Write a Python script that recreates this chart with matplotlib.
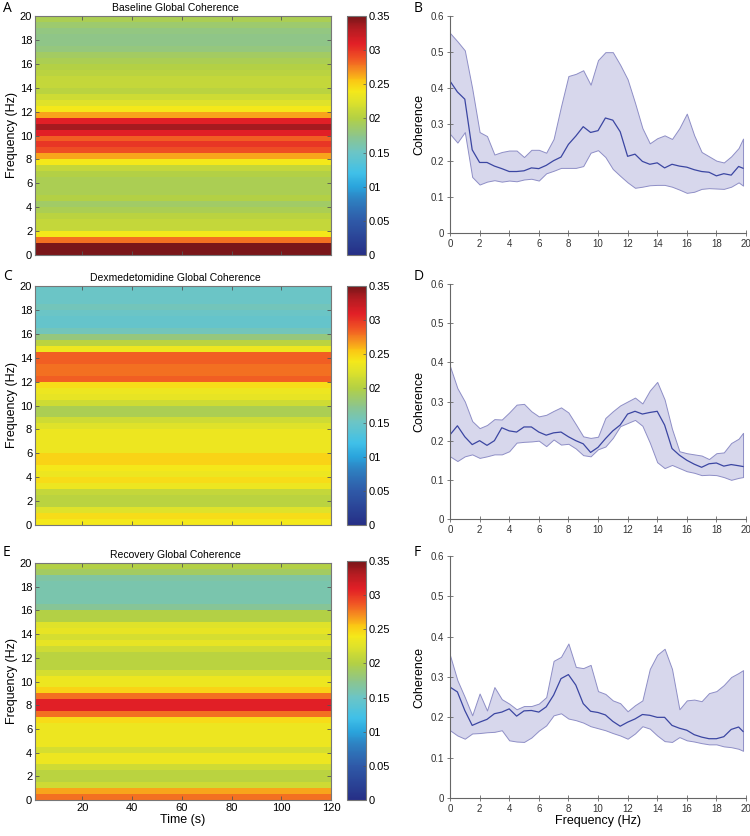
import matplotlib
matplotlib.use("Agg")
import matplotlib.pyplot as plt
from matplotlib.colors import LinearSegmentedColormap
import numpy as np

# ---- heatmap data (group coherence per 0.5 Hz bin, constant over time) ----
HM_FREQ = [0, 0.5, 1, 1.5, 2, 2.5, 3, 3.5, 4, 4.5, 5, 5.5, 6, 6.5, 7, 7.5, 8, 8.5, 9, 9.5,
           10, 10.5, 11, 11.5, 12, 12.5, 13, 13.5, 14, 14.5, 15, 15.5, 16, 16.5, 17, 17.5, 18, 18.5, 19, 19.5]
TIME_S = [1, 120]

hm_baseline = [0.36, 0.36, 0.28, 0.24, 0.21, 0.21, 0.205, 0.195, 0.188, 0.2,
               0.195, 0.195, 0.195, 0.2, 0.21, 0.24, 0.265, 0.29, 0.3, 0.285,
               0.31, 0.335, 0.31, 0.265, 0.24, 0.225, 0.215, 0.205, 0.21, 0.21,
               0.205, 0.2, 0.195, 0.19, 0.18, 0.175, 0.175, 0.178, 0.185, 0.195]
hm_dex = [0.24, 0.245, 0.225, 0.205, 0.205, 0.21, 0.235, 0.245, 0.235, 0.24,
          0.25, 0.25, 0.235, 0.235, 0.235, 0.235, 0.225, 0.215, 0.195, 0.195,
          0.215, 0.23, 0.235, 0.245, 0.285, 0.28, 0.28, 0.285, 0.285, 0.235,
          0.205, 0.18, 0.155, 0.145, 0.145, 0.15, 0.155, 0.15, 0.15, 0.15]
hm_recovery = [0.28, 0.265, 0.215, 0.205, 0.205, 0.215, 0.235, 0.235, 0.22, 0.235,
               0.235, 0.235, 0.235, 0.245, 0.28, 0.31, 0.31, 0.28, 0.25, 0.235,
               0.235, 0.22, 0.205, 0.205, 0.205, 0.215, 0.23, 0.22, 0.23, 0.225,
               0.2, 0.2, 0.17, 0.16, 0.16, 0.16, 0.16, 0.165, 0.19, 0.2]

# ---- median coherence with interquartile band ----
FREQ = [0, 0.5, 1, 1.5, 2, 2.5, 3, 3.5, 4, 4.5, 5, 5.5, 6, 6.5, 7, 7.5, 8, 8.5, 9, 9.5,
        10, 10.5, 11, 11.5, 12, 12.5, 13, 13.5, 14, 14.5, 15, 15.5, 16, 16.5, 17, 17.5, 18, 18.5, 19, 19.5, 19.8]

base_med = [0.42, 0.39, 0.37, 0.23, 0.195, 0.195, 0.185, 0.178, 0.17, 0.17,
            0.172, 0.18, 0.178, 0.187, 0.2, 0.21, 0.245, 0.268, 0.294, 0.278,
            0.283, 0.318, 0.312, 0.28, 0.212, 0.218, 0.198, 0.19, 0.194, 0.18,
            0.19, 0.185, 0.182, 0.175, 0.17, 0.168, 0.158, 0.164, 0.16, 0.184, 0.179]
base_hi = [0.553, 0.53, 0.505, 0.40, 0.279, 0.268, 0.217, 0.224, 0.228, 0.228,
           0.21, 0.23, 0.23, 0.222, 0.26, 0.35, 0.434, 0.44, 0.45, 0.41,
           0.478, 0.5, 0.5, 0.465, 0.425, 0.36, 0.29, 0.248, 0.262, 0.27,
           0.26, 0.29, 0.33, 0.27, 0.224, 0.212, 0.2, 0.195, 0.212, 0.235, 0.261]
base_lo = [0.274, 0.25, 0.279, 0.155, 0.134, 0.142, 0.146, 0.142, 0.145, 0.143,
           0.148, 0.15, 0.145, 0.165, 0.172, 0.18, 0.18, 0.18, 0.185, 0.222,
           0.229, 0.21, 0.177, 0.158, 0.14, 0.125, 0.128, 0.132, 0.133, 0.133,
           0.128, 0.12, 0.111, 0.114, 0.122, 0.124, 0.123, 0.122, 0.128, 0.14, 0.131]

dex_med = [0.215, 0.238, 0.21, 0.19, 0.2, 0.188, 0.2, 0.233, 0.225, 0.222,
           0.235, 0.235, 0.222, 0.214, 0.22, 0.222, 0.21, 0.2, 0.192, 0.17,
           0.183, 0.205, 0.225, 0.24, 0.268, 0.275, 0.268, 0.272, 0.275, 0.24,
           0.18, 0.163, 0.15, 0.14, 0.132, 0.141, 0.143, 0.135, 0.139, 0.136, 0.134]
dex_hi = [0.39, 0.334, 0.3, 0.25, 0.232, 0.24, 0.255, 0.254, 0.272, 0.292,
          0.294, 0.275, 0.262, 0.266, 0.276, 0.285, 0.272, 0.242, 0.211, 0.207,
          0.21, 0.258, 0.275, 0.29, 0.3, 0.31, 0.295, 0.328, 0.35, 0.305,
          0.23, 0.173, 0.168, 0.165, 0.162, 0.153, 0.168, 0.17, 0.194, 0.205, 0.22]
dex_lo = [0.16, 0.148, 0.16, 0.165, 0.156, 0.16, 0.165, 0.165, 0.173, 0.195,
          0.197, 0.198, 0.2, 0.186, 0.203, 0.19, 0.192, 0.18, 0.163, 0.16,
          0.178, 0.185, 0.207, 0.237, 0.245, 0.253, 0.238, 0.195, 0.145, 0.13,
          0.138, 0.13, 0.122, 0.118, 0.112, 0.113, 0.112, 0.107, 0.1, 0.105, 0.107]

rec_med = [0.275, 0.263, 0.217, 0.18, 0.188, 0.195, 0.209, 0.213, 0.221, 0.203,
           0.216, 0.217, 0.213, 0.226, 0.255, 0.296, 0.306, 0.28, 0.234, 0.215,
           0.212, 0.206, 0.19, 0.178, 0.188, 0.196, 0.207, 0.205, 0.2, 0.2,
           0.18, 0.173, 0.168, 0.157, 0.151, 0.147, 0.147, 0.152, 0.17, 0.176, 0.165]
rec_hi = [0.354, 0.292, 0.25, 0.205, 0.259, 0.217, 0.275, 0.245, 0.234, 0.22,
          0.228, 0.228, 0.234, 0.25, 0.34, 0.35, 0.383, 0.325, 0.322, 0.33,
          0.265, 0.258, 0.242, 0.235, 0.215, 0.23, 0.242, 0.32, 0.355, 0.37,
          0.32, 0.22, 0.242, 0.244, 0.24, 0.26, 0.265, 0.28, 0.3, 0.31, 0.317]
rec_lo = [0.168, 0.155, 0.147, 0.16, 0.161, 0.163, 0.164, 0.168, 0.143, 0.14,
          0.139, 0.15, 0.167, 0.18, 0.205, 0.21, 0.197, 0.193, 0.187, 0.178,
          0.173, 0.168, 0.161, 0.155, 0.147, 0.16, 0.178, 0.172, 0.155, 0.141,
          0.139, 0.151, 0.143, 0.14, 0.136, 0.133, 0.133, 0.128, 0.126, 0.122, 0.117]

TITLES = ['Baseline Global Coherence', 'Dexmedetomidine Global Coherence', 'Recovery Global Coherence']
CBAR_TICKS = [0, 0.05, 0.1, 0.15, 0.2, 0.25, 0.3, 0.35]
CBAR_LABELS = ['0', '0.05', '01', '0.15', '02', '0.25', '03', '0.35']

# jet-like map as printed in the figure
stops = [(0.00, '#262f86'), (0.05, '#2f5aa8'), (0.08, '#2e7fc0'), (0.10, '#2aa4dc'),
         (0.12, '#40c0e8'), (0.15, '#6cc5c6'), (0.175, '#8ec58a'), (0.20, '#b2d045'),
         (0.225, '#dfe22a'), (0.24, '#f4e81a'), (0.255, '#fbc814'), (0.27, '#f6911f'),
         (0.29, '#ef4f24'), (0.31, '#e11f26'), (0.33, '#b81c22'), (0.35, '#7a1619')]
cmap = LinearSegmentedColormap.from_list('coh', [(v / 0.35, c) for v, c in stops])

plt.rcParams['font.family'] = ['Liberation Sans', 'DejaVu Sans']
W, H = 750, 836
fig = plt.figure(figsize=(W / 100, H / 100), dpi=100)


def box(l, t, r, b):
    # pixel box -> figure coords
    return [l / W, 1 - b / H, (r - l) / W, (b - t) / H]


heat_boxes = [(35, 16, 331, 255), (35, 286, 331, 525), (35, 563, 331, 800)]
cbar_boxes = [(347, 16, 366, 255), (347, 286, 366, 525), (347, 561, 366, 800)]
line_boxes = [(450, 16, 746, 233), (450, 284, 746, 519), (450, 556, 746, 798)]
letters_left = [('A', 9), ('C', 277), ('E', 553)]
letters_right = [('B', 9), ('D', 277), ('F', 553)]

heat_data = [hm_baseline, hm_dex, hm_recovery]
line_data = [(base_med, base_lo, base_hi), (dex_med, dex_lo, dex_hi), (rec_med, rec_lo, rec_hi)]
freq_edges = np.append(HM_FREQ, 20)

for i in range(3):
    ax = fig.add_axes(box(*heat_boxes[i]))
    vals = np.array(heat_data[i])[:, None]
    mesh = ax.pcolormesh(TIME_S, freq_edges, vals, cmap=cmap, vmin=0, vmax=0.35, shading='flat')
    ax.set_xlim(1, 120)
    ax.set_ylim(0, 20)
    ax.set_yticks(range(0, 21, 2))
    ax.set_xticks(range(20, 121, 20))
    ax.tick_params(direction='in', length=3, width=0.6, top=True, right=True,
                   labelsize=8, color='#555555', pad=2)
    if i < 2:
        ax.set_xticklabels([])
    else:
        ax.set_xlabel('Time (s)', fontsize=9, labelpad=1)
    ax.set_ylabel('Frequency (Hz)', fontsize=9, labelpad=1)
    for s in ax.spines.values():
        s.set_color('#777777')
        s.set_linewidth(0.8)
    l, t, r, b = heat_boxes[i]
    fig.text((l + r) / 2 / W - 0.01, 1 - (t - 8) / H, TITLES[i], ha='center', va='center', fontsize=7.5)

    cax = fig.add_axes(box(*cbar_boxes[i]))
    cb = fig.colorbar(mesh, cax=cax, ticks=CBAR_TICKS)
    cb.ax.set_yticklabels(CBAR_LABELS)
    cb.ax.tick_params(direction='in', length=2, width=0.5, labelsize=8, color='#555555', pad=2)
    cb.outline.set_edgecolor('#777777')
    cb.outline.set_linewidth(0.8)

    lett, y = letters_left[i]
    fig.text(3 / W, 1 - y / H, lett, fontsize=10, va='center', ha='left', family='Open Sans')

    # right panel: median with quartile band
    med, lo, hi = line_data[i]
    ax2 = fig.add_axes(box(*line_boxes[i]))
    ax2.fill_between(FREQ, lo, hi, facecolor='#d7d7ec', edgecolor='#8e8ec6', linewidth=0.7)
    ax2.plot(FREQ, med, color='#3b46a2', linewidth=0.9)
    ax2.set_xlim(0, 20)
    ax2.set_ylim(0, 0.6)
    ax2.set_xticks(range(0, 21, 2))
    ax2.set_yticks([0, 0.1, 0.2, 0.3, 0.4, 0.5, 0.6])
    ax2.set_yticklabels(['0', '0.1', '0.2', '0.3', '0.4', '0.5', '0.6'])
    ax2.spines['top'].set_visible(False)
    ax2.spines['right'].set_visible(False)
    for s in ('left', 'bottom'):
        ax2.spines[s].set_color('#666666')
        ax2.spines[s].set_linewidth(0.8)
    ax2.tick_params(direction='inout', length=4, width=0.6, labelsize=7, color='#666666', pad=2)
    for lab in ax2.get_xticklabels() + ax2.get_yticklabels():
        lab.set_family(['Liberation Sans Narrow', 'Liberation Sans'])
        lab.set_color('#333333')
    ax2.set_ylabel('Coherence', fontsize=9, labelpad=4)
    if i == 2:
        ax2.set_xlabel('Frequency (Hz)', fontsize=9, labelpad=1)

    lett, y = letters_right[i]
    fig.text(414 / W, 1 - y / H, lett, fontsize=10, va='center', ha='left', family='Open Sans')

fig.savefig('out.png', dpi=100)
